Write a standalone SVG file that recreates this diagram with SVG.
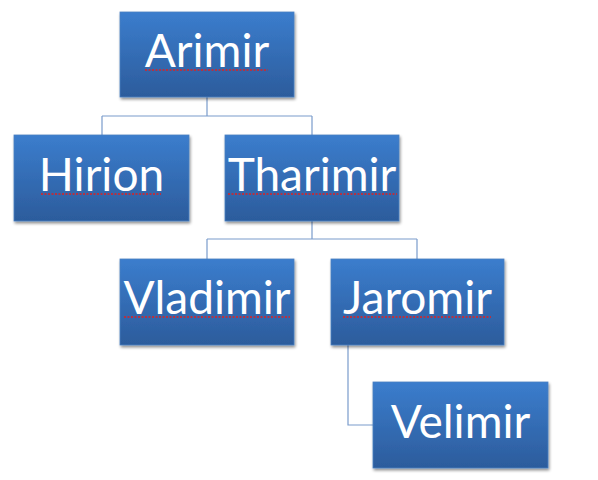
<svg xmlns="http://www.w3.org/2000/svg" width="598" height="480" viewBox="0 0 598 480">
<defs>
<linearGradient id="g" x1="0" y1="0" x2="0" y2="1">
<stop offset="0" stop-color="#3b7dcd"/>
<stop offset="1" stop-color="#2c5c9c"/>
</linearGradient>
<filter id="sh" x="-10%" y="-10%" width="130%" height="130%">
<feGaussianBlur in="SourceAlpha" stdDeviation="1.5"/>
<feOffset dx="1" dy="2" result="b"/>
<feComponentTransfer><feFuncA type="linear" slope="0.45"/></feComponentTransfer>
<feMerge><feMergeNode/><feMergeNode in="SourceGraphic"/></feMerge>
</filter>
</defs>
<style>
.box{fill:url(#g);stroke:#4a7fc0;stroke-width:0.8;filter:url(#sh)}
.t{font-family:Lato,"Open Sans",sans-serif;font-size:46px;fill:#ffffff;text-anchor:middle}
.c{fill:none;stroke:#7a9ccc;stroke-width:1.2}
.sq{fill:none;stroke:#e02020;stroke-width:1.5;stroke-dasharray:2 1.5}
</style>
<g id="connectors">
<path class="c" d="M207 97V116M102 116H312M102 116V135M312 116V135"/>
<path class="c" d="M312 221V239M207 239H417M207 239V259M417 239V259"/>
<path class="c" d="M348 345V425H373"/>
</g>
<g id="arimir">
<rect class="box" x="120" y="12" width="174" height="85"/>
<text class="t" x="207" y="67">Arimir</text>
<path class="sq" d="M145 70H268"/>
</g>
<g id="hirion">
<rect class="box" x="14" y="135" width="175" height="86"/>
<text class="t" x="101.5" y="191">Hirion</text>
<path class="sq" d="M41 194H161"/>
</g>
<g id="tharimir">
<rect class="box" x="225" y="135" width="174" height="86"/>
<text class="t" x="312" y="191">Tharimir</text>
<path class="sq" d="M228 194H397"/>
</g>
<g id="vladimir">
<rect class="box" x="120" y="259" width="174" height="86"/>
<text class="t" x="207" y="314">Vladimir</text>
<path class="sq" d="M124 317H290"/>
</g>
<g id="jaromir">
<rect class="box" x="331" y="259" width="173" height="86"/>
<text class="t" x="417.5" y="314">Jaromir</text>
<path class="sq" d="M343 317H491"/>
</g>
<g id="velimir">
<rect class="box" x="373" y="382" width="175" height="86"/>
<text class="t" x="460.5" y="438">Velimir</text>
</g>
</svg>
